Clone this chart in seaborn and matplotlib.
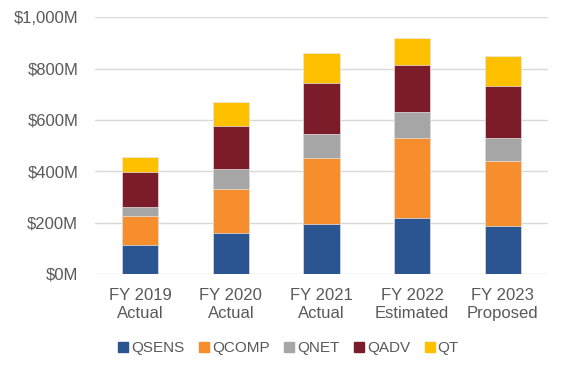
import matplotlib
matplotlib.use("Agg")
import matplotlib.pyplot as plt
from matplotlib.lines import Line2D
import numpy as np
import pandas as pd
import seaborn as sns

# Budget by program, $M
years = ["FY 2019\nActual", "FY 2020\nActual", "FY 2021\nActual", "FY 2022\nEstimated", "FY 2023\nProposed"]
programs = ["QSENS", "QCOMP", "QNET", "QADV", "QT"]
qsens = [113, 158, 195, 217, 186]
qcomp = [113, 174, 256, 314, 253]
qnet = [35, 76, 93, 99, 92]
qadv = [137, 168, 201, 184, 202]
qt = [56, 95, 115, 105, 115]
colors = ["#2b5591", "#f78e2d", "#a6a6a6", "#7c1c2b", "#ffc000"]

sns.set_theme(style="white")
plt.rcParams['font.family'] = ['Liberation Sans', 'DejaVu Sans']
text_color = "#595959"

# stacked totals, drawn from the top series down
values = np.array([qsens, qcomp, qnet, qadv, qt])
cumulative = values.cumsum(axis=0)
df = pd.DataFrame(cumulative.T, columns=programs)
df["year"] = years

fig = plt.figure(figsize=(5.61, 3.69), dpi=100)
ax = fig.add_axes([0.169, 0.2575, 0.808, 0.6955])

for i in reversed(range(len(programs))):
    sns.barplot(data=df, x="year", y=programs[i], color=colors[i], width=0.4,
                saturation=1, edgecolor="#e6e6e6", linewidth=0.5, ax=ax, zorder=3)

ax.set_ylim(0, 1000)
ax.set_yticks(range(0, 1001, 200))
ax.set_yticklabels(["$0M", "$200M", "$400M", "$600M", "$800M", "$1,000M"])
ax.yaxis.grid(True, color="#d9d9d9", linewidth=1, zorder=0)
ax.set_axisbelow(True)
for s in ax.spines.values():
    s.set_visible(False)
ax.tick_params(axis="both", length=0, colors=text_color, labelsize=12)
ax.tick_params(axis="y", pad=12)
ax.tick_params(axis="x", pad=10)
for lab in ax.get_xticklabels():
    lab.set_linespacing(1.25)
ax.set_xlabel("")
ax.set_ylabel("")
ax.set_xlim(-0.5, 4.5)

handles = [Line2D([], [], marker="s", linestyle="none", markersize=6.5,
                  markerfacecolor=c, markeredgecolor=c) for c in colors]
leg = fig.legend(handles, programs, loc="center", bbox_to_anchor=(0.512, 0.057),
                 ncol=5, frameon=False, fontsize=11, handletextpad=0.0,
                 columnspacing=0.8, handlelength=1.0)
for t in leg.get_texts():
    t.set_color(text_color)

fig.savefig("out.png", dpi=100)
